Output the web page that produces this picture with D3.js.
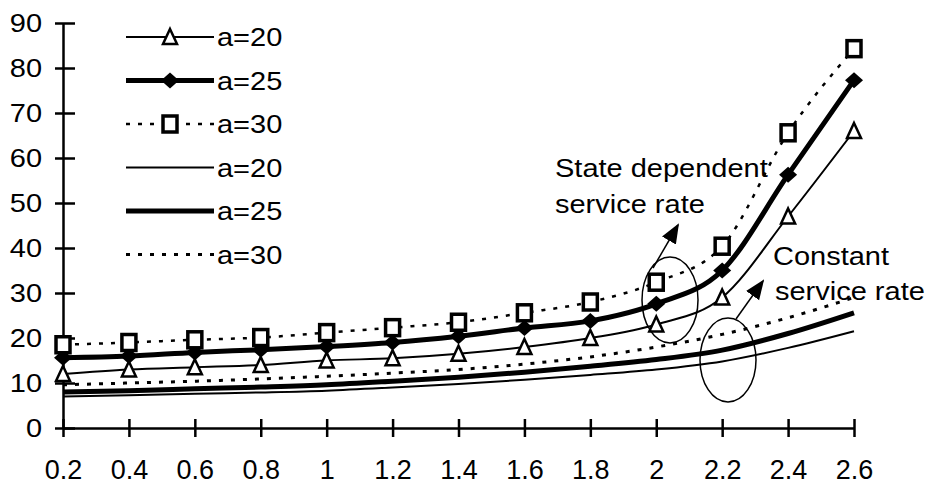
<!DOCTYPE html>
<html>
<head>
<meta charset="utf-8">
<script src="https://cdn.jsdelivr.net/npm/d3@7"></script>
<style>
  body { margin: 0; background: #fff; }
  text { font-family: "Liberation Sans", Arial, sans-serif; fill: #000; }
</style>
</head>
<body>
<script>
// size of the page
var w = 928;
var h = 488;
var sx = 1.16; // the scan is a bit wider than tall, so text is stretched

// data
var xs = [0.2, 0.4, 0.6, 0.8, 1, 1.2, 1.4, 1.6, 1.8, 2, 2.2, 2.4, 2.6];
var xLabels = ["0.2", "0.4", "0.6", "0.8", "1", "1.2", "1.4", "1.6", "1.8", "2", "2.2", "2.4", "2.6"];
var yTicks = [0, 10, 20, 30, 40, 50, 60, 70, 80, 90];

// state dependent service rate
var sd20 = [12, 13, 13.5, 14, 15, 15.5, 16.5, 18, 20, 23, 29, 47, 66];
var sd25 = [15.6, 16, 16.8, 17.4, 18.1, 19, 20.4, 22.2, 23.8, 27.6, 35, 56.3, 77.3];
var sd30 = [18.5, 19, 19.6, 20.1, 21.2, 22.3, 23.5, 25.6, 28, 32.4, 40.4, 65.6, 84.3];

// constant service rate
var c20 = [7, 7.3, 7.6, 7.9, 8.3, 9, 9.8, 10.7, 11.8, 13, 14.8, 17.8, 21.5];
var c25 = [8, 8.3, 8.7, 9.1, 9.6, 10.4, 11.3, 12.4, 13.7, 15.2, 17.3, 21, 25.6];
var c30 = [9.6, 10, 10.4, 10.9, 11.5, 12.2, 13, 14.2, 15.8, 18, 20.8, 24.5, 29];

var series = [
    {name: "a=20", values: sd20, width: 2, dash: null, marker: "triangle"},
    {name: "a=25", values: sd25, width: 5, dash: null, marker: "diamond"},
    {name: "a=30", values: sd30, width: 2.5, dash: "4,8", marker: "square"},
    {name: "a=20", values: c20, width: 2, dash: null, marker: null},
    {name: "a=25", values: c25, width: 5, dash: null, marker: null},
    {name: "a=30", values: c30, width: 3, dash: "4,8", marker: null}
];

var svg = d3.select("body")
            .append("svg")
            .attr("width", w)
            .attr("height", h);

var x = d3.scaleLinear().domain([0.2, 2.6]).range([63, 854]);
var y = d3.scaleLinear().domain([0, 90]).range([428, 23]);

// axes
var yAxis = svg.append("g")
    .attr("transform", "translate(63,0)")
    .call(d3.axisLeft(y).tickValues(yTicks).tickSize(0));
yAxis.select(".domain").attr("stroke", "#000").attr("stroke-width", 2.5);
yAxis.selectAll(".tick line").attr("x1", -8).attr("x2", 12)
    .attr("stroke", "#000").attr("stroke-width", 2.5);
yAxis.selectAll(".tick text")
    .attr("font-size", "25px")
    .attr("font-family", "Liberation Sans, Arial, sans-serif")
    .attr("x", -21 / sx)
    .attr("transform", "scale(" + sx + ",1)");

var xAxis = svg.append("g")
    .attr("transform", "translate(0,428)")
    .call(d3.axisBottom(x).tickValues(xs)
        .tickFormat(function(d, i) { return xLabels[i]; })
        .tickSize(0).tickPadding(32));
xAxis.select(".domain").attr("stroke", "#000").attr("stroke-width", 2.5);
xAxis.selectAll(".tick line").attr("y1", -9).attr("y2", 9)
    .attr("stroke", "#000").attr("stroke-width", 2.5);
xAxis.selectAll(".tick text").attr("font-size", "27px")
    .attr("font-family", "Liberation Sans, Arial, sans-serif");

var line = d3.line()
    .x(function(d, i) { return x(xs[i]); })
    .y(function(d) { return y(d); })
    .curve(d3.curveMonotoneX);

function drawMarker(g, type, cx, cy) {
    if (type == "triangle") {
        g.append("path")
            .attr("d", "M" + cx + "," + (cy - 8) + "L" + (cx + 7) + "," + (cy + 7) + "L" + (cx - 7) + "," + (cy + 7) + "Z")
            .attr("fill", "#fff").attr("stroke", "#000").attr("stroke-width", 2.5);
    } else if (type == "diamond") {
        g.append("path")
            .attr("d", "M" + cx + "," + (cy - 8) + "L" + (cx + 9) + "," + cy + "L" + cx + "," + (cy + 8) + "L" + (cx - 9) + "," + cy + "Z")
            .attr("fill", "#000");
    } else if (type == "square") {
        g.append("rect")
            .attr("x", cx - 7).attr("y", cy - 8)
            .attr("width", 14).attr("height", 16)
            .attr("fill", "#fff").attr("stroke", "#000").attr("stroke-width", 3.5);
    }
}

// lines, constant ones first
var order = [3, 4, 5, 0, 1, 2];
order.forEach(function(k) {
    var s = series[k];
    svg.append("path")
        .attr("d", line(s.values))
        .attr("fill", "none")
        .attr("stroke", "#000")
        .attr("stroke-width", s.width)
        .attr("stroke-dasharray", s.dash);
});
order.forEach(function(k) {
    var s = series[k];
    if (!s.marker) return;
    var g = svg.append("g");
    s.values.forEach(function(v, i) {
        drawMarker(g, s.marker, x(xs[i]), y(v));
    });
});

function label(txt, tx, ty) {
    svg.append("text")
        .attr("transform", "translate(" + tx + "," + ty + ") scale(" + sx + ",1)")
        .attr("font-size", "25px")
        .text(txt);
}

// legend
var legend = svg.append("g");
series.forEach(function(s, i) {
    var ly = 37 + i * 43.5;
    legend.append("line")
        .attr("x1", 126).attr("x2", 214)
        .attr("y1", ly).attr("y2", ly)
        .attr("stroke", "#000")
        .attr("stroke-width", s.width)
        .attr("stroke-dasharray", s.dash);
    if (s.marker) drawMarker(legend, s.marker, 170, ly);
    label(s.name, 217, ly + 9);
});

// annotations
svg.append("defs").append("marker")
    .attr("id", "head")
    .attr("viewBox", "0 0 10 10")
    .attr("refX", 9).attr("refY", 5)
    .attr("markerUnits", "userSpaceOnUse")
    .attr("orient", "auto")
    .attr("markerWidth", 20).attr("markerHeight", 20)
    .append("path")
    .attr("d", "M0,1L10,5L0,9Z")
    .attr("fill", "#000");

svg.append("ellipse")
    .attr("cx", 670).attr("cy", 300)
    .attr("rx", 28).attr("ry", 43)
    .attr("fill", "none").attr("stroke", "#000").attr("stroke-width", 1.5);
svg.append("line")
    .attr("x1", 653).attr("y1", 268).attr("x2", 678).attr("y2", 225)
    .attr("stroke", "#000").attr("stroke-width", 1.5)
    .attr("marker-end", "url(#head)");

svg.append("ellipse")
    .attr("cx", 728).attr("cy", 360)
    .attr("rx", 28).attr("ry", 42)
    .attr("fill", "none").attr("stroke", "#000").attr("stroke-width", 1.5);
svg.append("line")
    .attr("x1", 736).attr("y1", 319).attr("x2", 763).attr("y2", 281)
    .attr("stroke", "#000").attr("stroke-width", 1.5)
    .attr("marker-end", "url(#head)");

label("State dependent", 555, 177);
label("service rate", 555, 213);
label("Constant", 773, 265);
label("service rate", 775, 300);
</script>
</body>
</html>
